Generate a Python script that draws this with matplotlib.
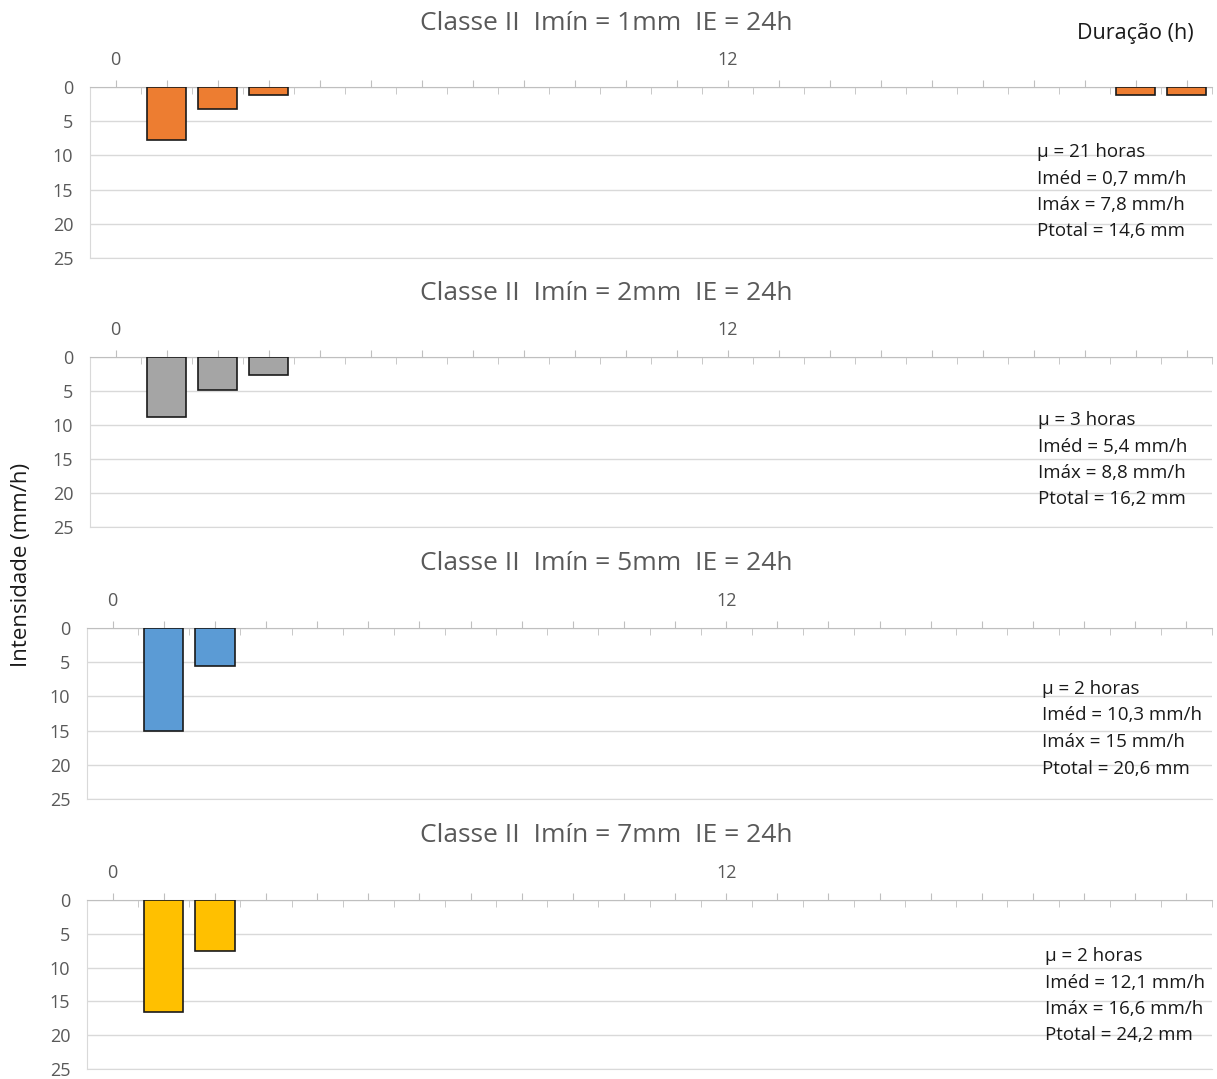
import matplotlib

matplotlib.use("Agg")
import matplotlib.pyplot as plt
from matplotlib.ticker import FixedLocator

plt.rcParams["font.family"] = ["Open Sans", "DejaVu Sans"]

# =========================
# Data
# =========================
N_HOURS = 22
TITLES = [
    "Classe II  Imín = 1mm  IE = 24h",
    "Classe II  Imín = 2mm  IE = 24h",
    "Classe II  Imín = 5mm  IE = 24h",
    "Classe II  Imín = 7mm  IE = 24h",
]
HOURS_1 = [1, 2, 3, 20, 21]
VALUES_1 = [7.8, 3.2, 1.2, 1.2, 1.2]
HOURS_2 = [1, 2, 3]
VALUES_2 = [8.8, 4.8, 2.6]
HOURS_3 = [1, 2]
VALUES_3 = [15.0, 5.6]
HOURS_4 = [1, 2]
VALUES_4 = [16.6, 7.6]
STATS = [
    ["µ = 21 horas", "Iméd = 0,7 mm/h", "Imáx = 7,8 mm/h", "Ptotal = 14,6 mm"],
    ["µ = 3 horas", "Iméd = 5,4 mm/h", "Imáx = 8,8 mm/h", "Ptotal = 16,2 mm"],
    ["µ = 2 horas", "Iméd = 10,3 mm/h", "Imáx = 15 mm/h", "Ptotal = 20,6 mm"],
    ["µ = 2 horas", "Iméd = 12,1 mm/h", "Imáx = 16,6 mm/h", "Ptotal = 24,2 mm"],
]
COLORS = ["#ED7D31", "#A5A5A5", "#5B9BD5", "#FFC000"]
Y_TICKS = [0, 5, 10, 15, 20, 25]

W, H = 1217, 1079
# panel boxes in pixels: left, top, right, bottom
BOXES = [
    (90, 87, 1212, 258),
    (90, 357, 1212, 527),
    (87, 628, 1212, 799),
    (87, 900, 1212, 1069),
]
STATS_POS = [(1037, 152), (1038, 420), (1042, 689), (1045, 956)]

GRID = "#D9D9D9"
AXIS = "#BFBFBF"
TXT = "#595959"


def main() -> None:
    fig = plt.figure(figsize=(W / 100, H / 100), dpi=100)
    series = [(HOURS_1, VALUES_1), (HOURS_2, VALUES_2), (HOURS_3, VALUES_3), (HOURS_4, VALUES_4)]

    for i, (hours, vals) in enumerate(series):
        l, t, r, b = BOXES[i]
        ax = fig.add_axes([l / W, 1 - b / H, (r - l) / W, (b - t) / H])
        ax.bar(hours, vals, width=0.77, color=COLORS[i], edgecolor="#1a1a1a", linewidth=1.2, zorder=3)

        ax.set_xlim(-0.5, N_HOURS - 0.5)
        ax.set_ylim(25, 0)
        ax.xaxis.tick_top()
        ax.set_xticks(range(N_HOURS))
        ax.set_xticklabels([str(h) if h % 12 == 0 else "" for h in range(N_HOURS)])
        ax.xaxis.set_minor_locator(FixedLocator([h + 0.5 for h in range(N_HOURS)]))
        ax.tick_params(axis="x", which="major", direction="out", length=5, color=AXIS,
                       labelsize=13, labelcolor=TXT, pad=8)
        ax.tick_params(axis="x", which="minor", direction="in", length=5, color=AXIS)

        ax.set_yticks(Y_TICKS)
        ax.tick_params(axis="y", length=0, labelsize=13, labelcolor=TXT, pad=12)
        ax.grid(axis="y", color=GRID, linewidth=1, zorder=0)

        ax.spines["right"].set_visible(False)
        ax.spines["bottom"].set_color(GRID)
        ax.spines["top"].set_color(AXIS)
        ax.spines["left"].set_color(GRID)

        fig.text(0.498, 1 - (t - 64) / H, TITLES[i], ha="center", va="center",
                 fontsize=19, color=TXT)

        sx, sy = STATS_POS[i]
        for k, line in enumerate(STATS[i]):
            fig.text(sx / W, 1 - (sy + k * 26.5) / H, line, ha="left", va="center",
                     fontsize=13.5, color="#1a1a1a")

    fig.text(1135 / W, 1 - 33 / H, "Duração (h)", ha="center", va="center",
             fontsize=15.5, color="#1a1a1a")
    fig.text(22 / W, 1 - 565 / H, "Intensidade (mm/h)", ha="center", va="center",
             rotation=90, fontsize=16, color="#1a1a1a")

    fig.savefig("out.png", dpi=100)
    plt.close(fig)


if __name__ == "__main__":
    main()
